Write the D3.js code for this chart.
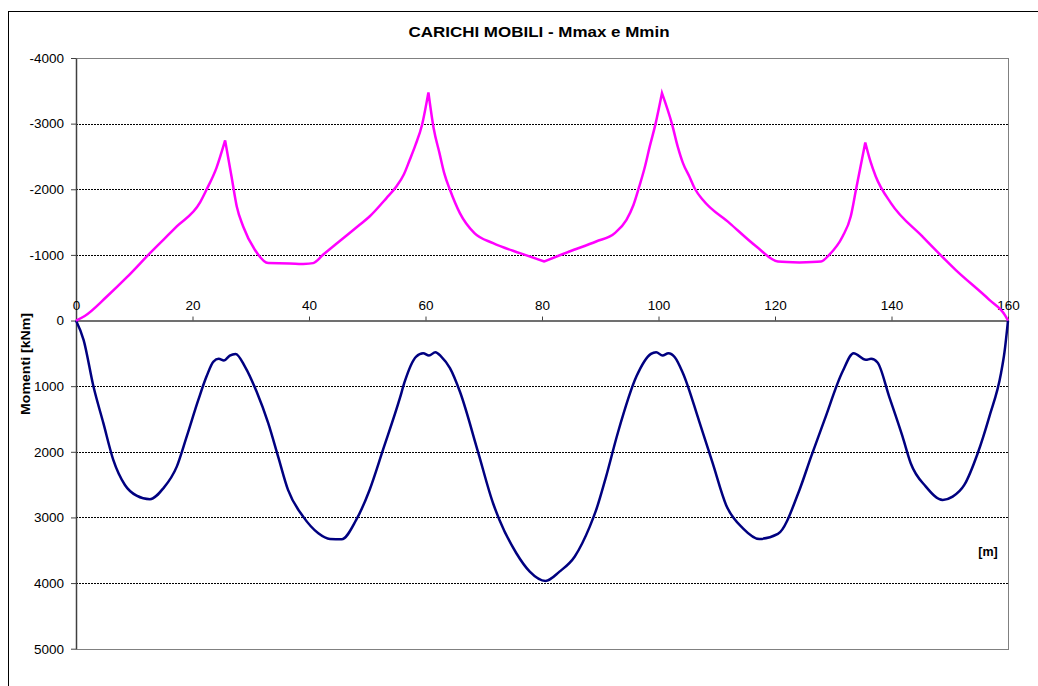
<!DOCTYPE html>
<html>
<head>
<meta charset="utf-8">
<script src="https://cdn.jsdelivr.net/npm/d3@7"></script>
<style>
  html, body { margin: 0; padding: 0; background: #fff; }
  svg { display: block; font-family: "Liberation Sans", Arial, sans-serif; }
</style>
</head>
<body>
<svg id="chart" width="1038" height="686"></svg>
<script>
// ---- data ----
const chartTitle = "CARICHI MOBILI - Mmax e Mmin";
const yAxisTitle = "Momenti [kNm]";
const xAxisTitle = "[m]";
const xTicks = [0, 20, 40, 60, 80, 100, 120, 140, 160];
const yTicks = [-4000, -3000, -2000, -1000, 0, 1000, 2000, 3000, 4000, 5000];

// Mmin (magenta) – abscissa [m] and moment [kNm]
const mminX = [0, 1.5, 5.3, 8.7, 12.7, 17.3, 21.3, 22.4, 24.1, 25.6, 26.7, 27.6, 28.7, 30.7, 33, 36.7, 39, 40.7, 42.4, 48.7, 50.4, 53.3, 55, 56.3, 57.3, 58.3, 59.4, 60.5, 61.4, 62.4, 63.2, 64.2, 65.9, 68.4, 71.6, 76.2, 80.4, 84.7, 89.3, 92.5, 94.5, 95.7, 96.7, 97.6, 98.5, 99.5, 100.6, 102.3, 103.3, 104.2, 105.3, 106.3, 107.6, 112.2, 116.8, 120.5, 124.2, 127.9, 129.3, 131.6, 133, 133.9, 135.5, 136.4, 137.3, 139.9, 145.3, 151, 156.8, 159.5, 160];
const mminV = [0, -70, -366, -656, -1027, -1433, -1799, -1992, -2323, -2744, -2195, -1738, -1433, -1078, -875, -870, -860, -875, -1001, -1459, -1585, -1866, -2043, -2230, -2450, -2680, -2980, -3476, -2930, -2551, -2250, -1992, -1637, -1332, -1180, -1027, -900, -1052, -1204, -1332, -1535, -1760, -2043, -2320, -2653, -3000, -3466, -3000, -2650, -2399, -2195, -2000, -1840, -1485, -1128, -900, -884, -900, -1001, -1281, -1585, -1992, -2713, -2420, -2195, -1789, -1281, -773, -316, -80, 0];

// Mmax (navy) – abscissa [m] and moment [kNm]
const mmaxX = [0, 1.3, 3, 4.7, 6.4, 8.4, 10.4, 12.7, 15, 17.3, 19, 21, 22.4, 23.6, 24.5, 25.4, 26.4, 27.4, 29, 31, 33, 34.7, 36.4, 39, 41.6, 43.6, 45.6, 48.1, 50.4, 52.7, 55.6, 56.4, 58.4, 59.6, 60.6, 61.7, 62.7, 64.2, 65.9, 69, 71.6, 72.7, 75.6, 77.9, 80.6, 83, 85.6, 88.2, 89.3, 91, 93, 96.2, 98.7, 99.6, 100.7, 101.7, 102.8, 104.2, 107, 109.3, 111.6, 114.5, 117.3, 120.5, 124.2, 126.2, 128.5, 131.6, 133.5, 135.6, 136.5, 137.6, 139.6, 141.9, 143.3, 145.9, 148.8, 150.5, 152.5, 154.8, 156.8, 158.8, 159.4, 160];
const mmaxV = [0, 294, 1006, 1564, 2123, 2505, 2668, 2723, 2555, 2226, 1768, 1209, 854, 625, 584, 610, 534, 508, 701, 1082, 1564, 2073, 2581, 2988, 3241, 3328, 3332, 3038, 2581, 1971, 1183, 940, 549, 498, 534, 482, 549, 726, 1082, 1997, 2784, 3038, 3546, 3826, 3968, 3826, 3598, 3140, 2886, 2378, 1717, 854, 508, 482, 534, 498, 559, 803, 1540, 2174, 2810, 3165, 3328, 3252, 2581, 2073, 1514, 777, 498, 599, 584, 640, 1158, 1768, 2174, 2530, 2733, 2683, 2505, 2022, 1463, 803, 480, 0];

// ---- drawing ----
const svg = d3.select("#chart");
const FONT = "'Liberation Sans', Arial, sans-serif";

// outer chart border
svg.append("rect")
  .attr("x", 8.5).attr("y", 11.5)
  .attr("width", 1060).attr("height", 700)
  .attr("fill", "#fff").attr("stroke", "#000").attr("stroke-width", 1);

const x = d3.scaleLinear().domain([0, 160]).range([76, 1008]);
const y = d3.scaleLinear().domain([-4000, 5000]).range([58, 648.7]);

// gridlines
svg.append("g").selectAll("line")
  .data(yTicks.filter(v => v !== -4000 && v !== 5000 && v !== 0))
  .join("line")
  .attr("x1", x(0)).attr("x2", x(160))
  .attr("y1", d => Math.round(y(d)) + 0.5).attr("y2", d => Math.round(y(d)) + 0.5)
  .attr("stroke", "#000").attr("stroke-width", 1)
  .attr("stroke-dasharray", "2,1");

// plot area border
svg.append("rect")
  .attr("x", x(0) + 0.5).attr("y", Math.round(y(-4000)) + 0.5)
  .attr("width", x(160) - x(0)).attr("height", Math.round(y(5000)) - Math.round(y(-4000)))
  .attr("fill", "none").attr("stroke", "#808080").attr("stroke-width", 1);

// y axis
const yAxis = svg.append("g")
  .attr("transform", `translate(${x(0)},0)`)
  .call(d3.axisLeft(y).tickValues(yTicks).tickSize(5).tickSizeOuter(0).tickPadding(7).tickFormat(d => String(d)));
yAxis.select(".domain").attr("stroke", "#404040").attr("stroke-width", 1.5);
yAxis.selectAll(".tick line").attr("stroke", "#404040");
yAxis.selectAll("text").attr("font-family", FONT).attr("font-size", 13.5).attr("fill", "#000");

// x axis at zero, labels above
const xAxis = svg.append("g")
  .attr("transform", `translate(0,${y(0)})`)
  .call(d3.axisTop(x).tickValues(xTicks).tickSize(4).tickSizeOuter(0).tickPadding(7).tickFormat(d => String(d)));
xAxis.select(".domain").attr("stroke", "#404040").attr("stroke-width", 1.5);
xAxis.selectAll(".tick line").attr("stroke", "#404040");
xAxis.selectAll("text").attr("font-family", FONT).attr("font-size", 13.5).attr("fill", "#000");

// series
const smooth = d3.line().x(d => x(d[0])).y(d => y(d[1])).curve(d3.curveMonotoneX);

// Mmax: one smooth path
svg.append("path")
  .attr("d", smooth(mmaxX.map((v, i) => [v, mmaxV[i]])))
  .attr("fill", "none").attr("stroke", "#000080").attr("stroke-width", 2.5)
  .attr("stroke-linejoin", "round");

// Mmin: smooth between cusps (local extrema kept sharp)
const mminPts = mminX.map((v, i) => [v, mminV[i]]);
const breaks = [0];
for (let i = 1; i < mminPts.length - 1; i++) {
  const a = mminPts[i - 1][1], b = mminPts[i][1], c = mminPts[i + 1][1];
  if ((b < a && b < c) || (b > a && b > c && b > -950)) breaks.push(i);
}
breaks.push(mminPts.length - 1);
let dAll = "";
for (let k = 0; k < breaks.length - 1; k++) {
  const seg = mminPts.slice(breaks[k], breaks[k + 1] + 1);
  let d = smooth(seg);
  if (k > 0) d = "L" + d.slice(1);
  dAll += d;
}
svg.append("path")
  .attr("d", dAll)
  .attr("fill", "none").attr("stroke", "#FF00FF").attr("stroke-width", 2.5)
  .attr("stroke-linejoin", "miter").attr("stroke-miterlimit", 4);

// title
svg.append("text")
  .attr("x", 539).attr("y", 37)
  .attr("text-anchor", "middle")
  .attr("font-family", FONT).attr("font-size", 14.5).attr("font-weight", "bold")
  .attr("textLength", 261).attr("lengthAdjust", "spacingAndGlyphs")
  .text(chartTitle);

// y axis title
svg.append("text")
  .attr("transform", "translate(30,364) rotate(-90)")
  .attr("text-anchor", "middle")
  .attr("font-family", FONT).attr("font-size", 13).attr("font-weight", "bold")
  .attr("textLength", 102).attr("lengthAdjust", "spacingAndGlyphs")
  .text(yAxisTitle);

// x axis title
svg.append("text")
  .attr("x", 988).attr("y", 556)
  .attr("text-anchor", "middle")
  .attr("font-family", FONT).attr("font-size", 12.5).attr("font-weight", "bold")
  .text(xAxisTitle);
</script>
</body>
</html>
